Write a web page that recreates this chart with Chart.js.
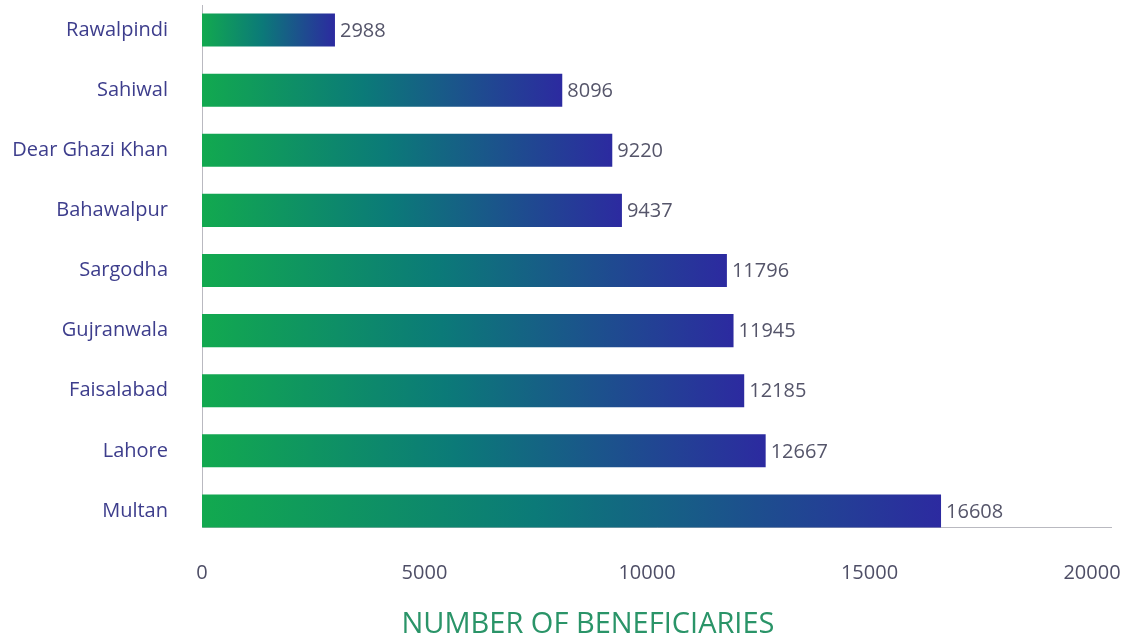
<!DOCTYPE html>
<html>
<head>
<meta charset="utf-8">
<script src="https://cdn.jsdelivr.net/npm/chart.js@4/dist/chart.umd.min.js"></script>
<style>
  html, body { margin: 0; padding: 0; background: #ffffff; }
  #wrap { width: 1129px; height: 639px; }
</style>
</head>
<body>
<div id="wrap"><canvas id="c" width="1129" height="639"></canvas></div>
<script>
// Districts and beneficiary counts
const districts = ['Rawalpindi', 'Sahiwal', 'Dear Ghazi Khan', 'Bahawalpur', 'Sargodha', 'Gujranwala', 'Faisalabad', 'Lahore', 'Multan'];
const beneficiaries = [2988, 8096, 9220, 9437, 11796, 11945, 12185, 12667, 16608];
const tickValues = [0, 5000, 10000, 15000, 20000];
const axisTitle = 'NUMBER OF BENEFICIARIES';

const FONT = "'Open Sans', 'DejaVu Sans', sans-serif";

// Each bar fades from green at its base to deep blue at its tip
function barGradient(ctx) {
  const chart = ctx.chart;
  const xs = chart.scales.x;
  if (!chart.chartArea || !xs || ctx.dataIndex === undefined) return '#0d6e7c';
  const v = ctx.raw;
  const x0 = xs.getPixelForValue(0);
  const x1 = xs.getPixelForValue(v);
  if (!isFinite(x0) || !isFinite(x1) || x1 <= x0) return '#12a84f';
  const g = chart.ctx.createLinearGradient(x0, 0, x1, 0);
  g.addColorStop(0, '#12a94f');
  g.addColorStop(0.45, '#0b7a78');
  g.addColorStop(1, '#2c2aa0');
  return g;
}

// Axis lines: vertical at zero, horizontal along the bottom of the last bar
const axisLines = {
  id: 'axisLines',
  beforeDatasetsDraw(chart) {
    const { ctx, chartArea, scales } = chart;
    const meta = chart.getDatasetMeta(0);
    const last = meta.data[meta.data.length - 1];
    const baseY = Math.round(last.y + last.height / 2) + 0.5;
    const x0 = Math.round(scales.x.getPixelForValue(0)) + 0.5;
    ctx.save();
    ctx.strokeStyle = '#b9b9c0';
    ctx.lineWidth = 1;
    ctx.beginPath();
    ctx.moveTo(x0, chartArea.top + 5);
    ctx.lineTo(x0, baseY);
    ctx.lineTo(chartArea.right, baseY);
    ctx.stroke();
    ctx.restore();
  }
};

// Value labels just past the end of each bar
const valueLabels = {
  id: 'valueLabels',
  afterDatasetsDraw(chart) {
    const { ctx } = chart;
    const meta = chart.getDatasetMeta(0);
    ctx.save();
    ctx.font = '20px ' + FONT;
    ctx.fillStyle = '#55556a';
    ctx.textAlign = 'left';
    ctx.textBaseline = 'middle';
    meta.data.forEach((bar, i) => {
      ctx.fillText(String(beneficiaries[i]), bar.x + 5, bar.y + 1);
    });
    ctx.restore();
  }
};

// Axis title under the tick labels
const bottomTitle = {
  id: 'bottomTitle',
  afterDraw(chart) {
    const { ctx } = chart;
    ctx.save();
    ctx.font = '29px ' + FONT;
    ctx.fillStyle = '#2a9468';
    ctx.textAlign = 'center';
    ctx.textBaseline = 'middle';
    ctx.fillText(axisTitle, 588, 625);
    ctx.restore();
  }
};

new Chart(document.getElementById('c'), {
  type: 'bar',
  data: {
    labels: districts,
    datasets: [{
      data: beneficiaries,
      backgroundColor: barGradient,
      borderWidth: 0,
      barPercentage: 0.55,
      categoryPercentage: 1.0
    }]
  },
  plugins: [axisLines, valueLabels, bottomTitle],
  options: {
    indexAxis: 'y',
    responsive: false,
    animation: false,
    layout: { padding: { left: 0, right: 17, top: 0, bottom: 34 } },
    plugins: {
      legend: { display: false },
      tooltip: { enabled: false },
      title: { display: false }
    },
    scales: {
      x: {
        min: 0,
        max: 20450,
        afterBuildTicks(scale) {
          scale.ticks = tickValues.map(v => ({ value: v }));
        },
        afterFit(scale) {
          scale.paddingLeft = 0;
          scale.paddingRight = 0;
        },
        grid: { display: false, drawTicks: false },
        border: { display: false },
        ticks: {
          color: '#4e4e66',
          padding: 20,
          maxRotation: 0,
          font: { family: FONT, size: 20 },
          callback: v => String(v)
        }
      },
      y: {
        offset: true,
        afterFit(scale) {
          scale.width = 202;
          scale.paddingTop = 0;
          scale.paddingBottom = 0;
        },
        grid: { display: false, drawTicks: false },
        border: { display: false },
        ticks: {
          color: '#3d3d8c',
          padding: 34,
          font: { family: FONT, size: 20 }
        }
      }
    }
  }
});
</script>
</body>
</html>
